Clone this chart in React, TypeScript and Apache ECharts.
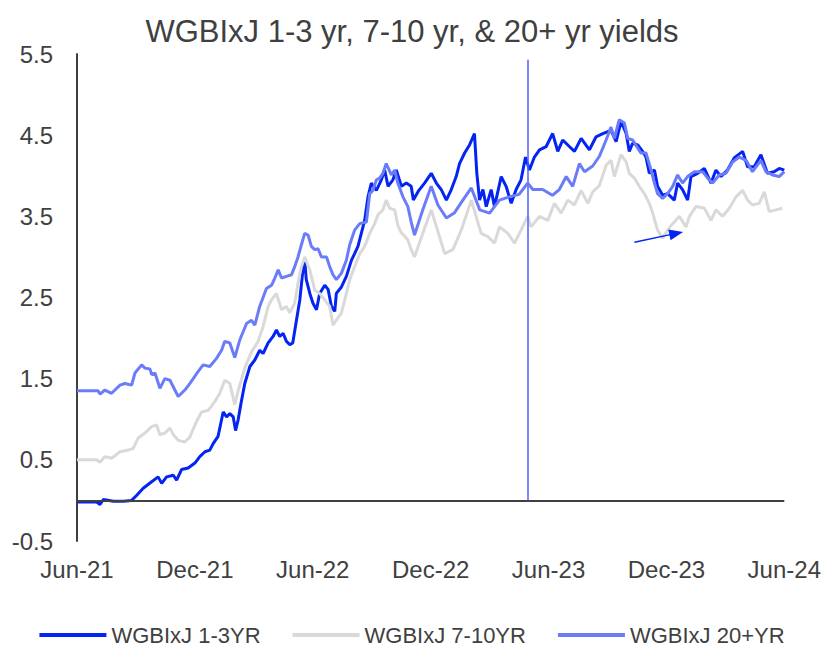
import React, { useEffect, useRef } from 'react';
import * as echarts from 'echarts';

const chartTitle = 'WGBIxJ 1-3 yr, 7-10 yr, & 20+ yr yields';
const xTickLabels = ['Jun-21', 'Dec-21', 'Jun-22', 'Dec-22', 'Jun-23', 'Dec-23', 'Jun-24'];
const seriesNames = ['WGBIxJ 1-3YR', 'WGBIxJ 7-10YR', 'WGBIxJ 20+YR'];
const seriesColors = ['#0424F4', '#D9D9D9', '#6B7CF9'];

// [months since 1 Jun 2021, yield %]
const yield1to3: [number, number][] = [
  [0, -0.02], [0.5, -0.02], [1.0, -0.02], [1.17, -0.05], [1.34, 0.01], [1.85, -0.01], [2.36, -0.01],
  [2.78, 0.0], [3.03, 0.06], [3.37, 0.15], [3.8, 0.23], [4.13, 0.29], [4.31, 0.21], [4.56, 0.29],
  [4.9, 0.31], [5.07, 0.25], [5.32, 0.38], [5.66, 0.4], [6.0, 0.46], [6.25, 0.54], [6.51, 0.6],
  [6.76, 0.62], [6.93, 0.7], [7.18, 0.79], [7.44, 1.09], [7.61, 1.03], [7.78, 1.07], [7.95, 1.03],
  [8.07, 0.86], [8.2, 0.99], [8.35, 1.2], [8.54, 1.44], [8.8, 1.65], [9.05, 1.73], [9.3, 1.85],
  [9.47, 1.81], [9.73, 1.94], [9.98, 2.02], [10.15, 2.1], [10.32, 2.02], [10.49, 2.06], [10.66, 1.96],
  [10.83, 1.92], [10.98, 1.94], [11.17, 2.22], [11.34, 2.47], [11.5, 2.84], [11.59, 2.96], [11.67, 2.72],
  [11.85, 2.55], [12.01, 2.43], [12.19, 2.35], [12.35, 2.55], [12.61, 2.65], [12.78, 2.6], [12.95, 2.39],
  [13.12, 2.33], [13.2, 2.55], [13.46, 2.63], [13.71, 2.76], [13.97, 2.96], [14.13, 3.04], [14.3, 3.13],
  [14.47, 3.29], [14.64, 3.45], [14.81, 3.74], [14.98, 3.91], [15.24, 3.82], [15.49, 3.95], [15.66, 4.07],
  [15.83, 3.87], [16.08, 3.95], [16.25, 4.07], [16.51, 3.87], [16.76, 3.91], [17.01, 3.87], [17.12, 3.7],
  [17.4, 3.82], [17.69, 3.91], [18.03, 4.03], [18.29, 3.91], [18.54, 3.83], [18.8, 3.7], [19.05, 3.83],
  [19.3, 3.99], [19.47, 4.15], [19.73, 4.28], [19.98, 4.38], [20.23, 4.52], [20.35, 4.03], [20.49, 3.7],
  [20.66, 3.83], [20.83, 3.62], [21.08, 3.83], [21.25, 3.62], [21.59, 3.99], [21.84, 3.87], [22.1, 3.66],
  [22.35, 3.83], [22.6, 3.95], [22.83, 4.23], [23.03, 4.07], [23.28, 4.23], [23.54, 4.32], [23.88, 4.36],
  [24.21, 4.52], [24.47, 4.3], [24.72, 4.44], [25.06, 4.36], [25.32, 4.3], [25.66, 4.46], [26.08, 4.32],
  [26.42, 4.48], [26.76, 4.52], [27.18, 4.56], [27.44, 4.42], [27.69, 4.67], [27.95, 4.52], [28.11, 4.3],
  [28.28, 4.4], [28.54, 4.38], [28.79, 4.3], [28.96, 4.23], [29.13, 4.03], [29.39, 4.07], [29.55, 3.87],
  [29.81, 3.76], [30.06, 3.78], [30.4, 3.7], [30.57, 3.91], [30.82, 3.83], [31.08, 3.7], [31.25, 3.99],
  [31.59, 4.03], [31.93, 4.09], [32.27, 3.91], [32.52, 4.07], [32.78, 3.99], [33.11, 4.07], [33.45, 4.22],
  [33.88, 4.3], [34.13, 4.11], [34.47, 4.11], [34.81, 4.26], [35.14, 4.03], [35.48, 4.05], [35.74, 4.09],
  [36.0, 4.07],
];

const yield7to10: [number, number][] = [
  [0, 0.5], [0.5, 0.5], [1.0, 0.5], [1.17, 0.47], [1.42, 0.54], [1.76, 0.52], [2.19, 0.6], [2.61, 0.62],
  [2.86, 0.64], [3.12, 0.77], [3.46, 0.83], [3.8, 0.91], [4.05, 0.93], [4.22, 0.81], [4.47, 0.83],
  [4.73, 0.89], [4.9, 0.81], [5.15, 0.74], [5.49, 0.72], [5.74, 0.78], [6.08, 0.97], [6.34, 1.09],
  [6.68, 1.11], [7.02, 1.22], [7.27, 1.32], [7.52, 1.48], [7.78, 1.44], [8.03, 1.18], [8.2, 1.35],
  [8.54, 1.63], [8.88, 1.83], [9.22, 1.96], [9.47, 2.14], [9.73, 2.39], [9.9, 2.47], [10.15, 2.55],
  [10.41, 2.35], [10.66, 2.39], [10.83, 2.31], [11.08, 2.43], [11.25, 2.68], [11.42, 2.88], [11.59, 3.0],
  [11.85, 2.84], [12.1, 2.59], [12.35, 2.55], [12.61, 2.47], [12.86, 2.39], [13.03, 2.16], [13.2, 2.22],
  [13.46, 2.31], [13.71, 2.55], [13.88, 2.72], [14.13, 2.88], [14.39, 3.04], [14.64, 3.13], [14.9, 3.29],
  [15.15, 3.41], [15.32, 3.52], [15.57, 3.58], [15.74, 3.7], [15.91, 3.6], [16.17, 3.58], [16.33, 3.39],
  [16.5, 3.3], [16.84, 3.21], [17.01, 3.09], [17.18, 3.0], [17.6, 3.29], [18.03, 3.58], [18.45, 3.25],
  [18.71, 3.04], [19.13, 3.09], [19.56, 3.33], [20.07, 3.7], [20.57, 3.29], [20.91, 3.25], [21.25, 3.17],
  [21.5, 3.37], [21.93, 3.29], [22.27, 3.17], [22.6, 3.33], [22.94, 3.5], [23.11, 3.37], [23.54, 3.5],
  [23.96, 3.45], [24.3, 3.66], [24.64, 3.54], [24.98, 3.7], [25.32, 3.64], [25.66, 3.82], [26.0, 3.66],
  [26.25, 3.8], [26.59, 3.88], [26.93, 4.13], [27.18, 4.19], [27.35, 3.99], [27.69, 4.26], [27.95, 4.17],
  [28.11, 4.03], [28.37, 3.97], [28.62, 3.87], [28.88, 3.78], [29.13, 3.66], [29.3, 3.54], [29.55, 3.33],
  [29.81, 3.23], [30.06, 3.33], [30.32, 3.41], [30.66, 3.5], [31.0, 3.37], [31.17, 3.5], [31.5, 3.62],
  [31.93, 3.6], [32.27, 3.45], [32.52, 3.58], [32.86, 3.5], [33.2, 3.6], [33.54, 3.74], [33.88, 3.82],
  [34.13, 3.7], [34.38, 3.64], [34.72, 3.66], [34.98, 3.8], [35.23, 3.56], [35.57, 3.58], [35.9, 3.6],
];

const yield20plus: [number, number][] = [
  [0, 1.35], [0.5, 1.35], [1.07, 1.35], [1.17, 1.31], [1.42, 1.36], [1.76, 1.32], [2.19, 1.42],
  [2.44, 1.44], [2.78, 1.42], [2.95, 1.57], [3.29, 1.67], [3.46, 1.63], [3.71, 1.62], [3.8, 1.55],
  [3.97, 1.57], [4.22, 1.38], [4.47, 1.5], [4.73, 1.48], [4.9, 1.4], [5.15, 1.28], [5.49, 1.36],
  [5.74, 1.44], [6.17, 1.59], [6.42, 1.67], [6.76, 1.65], [7.1, 1.75], [7.36, 1.85], [7.52, 1.96],
  [7.78, 1.94], [8.03, 1.76], [8.29, 1.98], [8.63, 2.18], [8.88, 2.22], [9.05, 2.16], [9.3, 2.39],
  [9.64, 2.61], [9.9, 2.65], [10.07, 2.74], [10.24, 2.84], [10.41, 2.74], [10.66, 2.76], [10.92, 2.78],
  [11.08, 2.88], [11.25, 3.0], [11.42, 3.15], [11.59, 3.29], [11.76, 3.27], [11.93, 3.13], [12.1, 3.09],
  [12.27, 3.1], [12.44, 3.0], [12.7, 3.0], [12.86, 2.88], [13.03, 2.78], [13.2, 2.72], [13.46, 2.8],
  [13.71, 2.96], [13.88, 3.15], [14.13, 3.33], [14.39, 3.41], [14.73, 3.43], [14.9, 3.78], [15.06, 3.82],
  [15.24, 3.95], [15.4, 3.97], [15.57, 4.03], [15.74, 4.15], [16.0, 4.01], [16.17, 4.07], [16.33, 3.91],
  [16.59, 3.74], [16.84, 3.62], [17.01, 3.43], [17.18, 3.27], [17.6, 3.58], [18.03, 3.87], [18.37, 3.64],
  [18.8, 3.48], [19.2, 3.54], [19.64, 3.7], [20.07, 3.85], [20.5, 3.58], [21.0, 3.54], [21.5, 3.7],
  [22.0, 3.74], [22.5, 3.77], [22.94, 3.91], [23.2, 3.83], [23.7, 3.83], [24.2, 3.76], [24.55, 3.83],
  [24.9, 3.99], [25.23, 3.87], [25.57, 4.15], [25.83, 4.05], [26.25, 4.12], [26.59, 4.24], [26.93, 4.44],
  [27.18, 4.6], [27.35, 4.46], [27.6, 4.69], [27.86, 4.65], [28.03, 4.46], [28.28, 4.44], [28.54, 4.34],
  [28.7, 4.28], [28.96, 4.28], [29.22, 4.07], [29.39, 3.91], [29.55, 3.78], [29.81, 3.72], [30.06, 3.78],
  [30.32, 3.87], [30.57, 4.01], [30.82, 3.91], [31.08, 3.99], [31.42, 4.05], [31.84, 4.05], [32.1, 3.97],
  [32.35, 3.91], [32.69, 4.01], [33.03, 4.03], [33.37, 4.17], [33.71, 4.23], [34.05, 4.19], [34.38, 4.05],
  [34.81, 4.19], [35.06, 4.05], [35.4, 4.01], [35.74, 3.99], [36.0, 4.05],
];

// annotation: vertical marker (month, top yield) and arrow (from, to)
const markerMonth = 22.94;
const markerTop = 5.43;
const arrowFrom: [number, number] = [28.37, 3.18];
const arrowTo: [number, number] = [30.5, 3.29];

const FONT = 'Liberation Sans, Arial, Helvetica, sans-serif';
const TEXT = '#404040';

export default function App() {
  const ref = useRef<HTMLDivElement>(null);

  useEffect(() => {
    if (!ref.current) return;
    const chart = echarts.init(ref.current, undefined, { renderer: 'svg' });
    const datasets = [yield1to3, yield7to10, yield20plus];

    const series: any[] = seriesNames.map((name, i) => ({
      name,
      type: 'line',
      data: datasets[i],
      showSymbol: false,
      symbol: 'none',
      lineStyle: { color: seriesColors[i], width: 3 },
      itemStyle: { color: seriesColors[i] },
      z: 3 + i,
    }));

    series[0].markLine = {
      silent: true,
      symbol: ['none', 'none'],
      label: { show: false },
      data: [
        [
          { coord: [0, 0], lineStyle: { color: TEXT, width: 2, type: 'solid' } },
          { coord: [36, 0] },
        ],
        [
          { coord: [markerMonth, 0], lineStyle: { color: '#4A63FF', width: 1.5, type: 'solid' } },
          { coord: [markerMonth, markerTop] },
        ],
      ],
    };

    series[1].markLine = {
      silent: true,
      symbol: ['none', 'triangle'],
      symbolSize: [11, 14],
      label: { show: false },
      lineStyle: { color: '#0424F4', width: 1.5, type: 'solid' },
      itemStyle: { color: '#0424F4' },
      data: [[{ coord: arrowFrom }, { coord: arrowTo }]],
    };

    chart.setOption({
      animation: false,
      backgroundColor: '#ffffff',
      textStyle: { fontFamily: FONT },
      title: {
        text: chartTitle,
        left: 'center',
        top: 11,
        textStyle: { fontSize: 31, fontWeight: 'normal', color: TEXT, fontFamily: FONT },
      },
      grid: { left: 77, right: 39, top: 54, bottom: 109, containLabel: false },
      xAxis: {
        type: 'value',
        min: 0,
        max: 36,
        interval: 6,
        axisLine: { show: false, onZero: false },
        axisTick: { show: false },
        splitLine: { show: false },
        axisLabel: {
          margin: 16,
          fontSize: 24,
          color: TEXT,
          fontFamily: FONT,
          formatter: (v: number) => xTickLabels[Math.round(v / 6)] ?? '',
        },
      },
      yAxis: {
        type: 'value',
        min: -0.5,
        max: 5.5,
        interval: 1,
        axisLine: { show: true, lineStyle: { color: TEXT, width: 2 } },
        axisTick: { show: false },
        splitLine: { show: false },
        axisLabel: {
          margin: 24,
          fontSize: 24,
          color: TEXT,
          fontFamily: FONT,
          formatter: (v: number) => v.toFixed(1),
        },
      },
      legend: {
        data: seriesNames,
        left: 'center',
        top: 624,
        padding: 0,
        icon: 'rect',
        itemWidth: 67,
        itemHeight: 4,
        itemGap: 32,
        textStyle: { fontSize: 22, lineHeight: 22, color: TEXT, fontFamily: FONT },
      },
      series,
    });

    return () => chart.dispose();
  }, []);

  return (
    <div
      ref={ref}
      style={{ position: 'fixed', left: 0, top: 0, width: 824, height: 650, background: '#fff' }}
    />
  );
}
